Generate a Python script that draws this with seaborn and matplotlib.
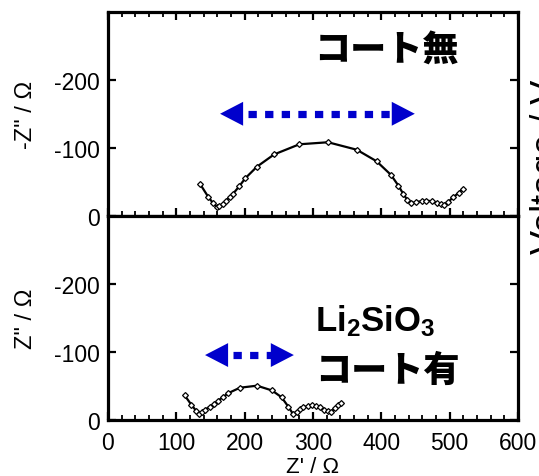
import matplotlib
matplotlib.use("Agg")
import matplotlib.pyplot as plt
import seaborn as sns
from matplotlib import font_manager
from matplotlib.ticker import MultipleLocator

# Nyquist data, uncoated sample (Z' / Ohm, Z'' / Ohm)
top_zre = [135, 147, 154, 159, 163, 168, 173, 178, 183, 192, 201, 218, 243, 280,
           322, 364, 393, 414, 425, 432, 438, 444, 451, 459, 466, 474, 481, 487,
           491, 498, 505, 513, 519]
top_zim = [-46, -27, -18, -13, -14, -17, -22, -27, -32, -43, -55, -72, -90, -105,
           -108, -97, -80, -60, -44, -32, -23, -18, -20, -21, -22, -21, -19, -17,
           -16, -20, -27, -33, -39]

# Li2SiO3 coated sample
bot_zre = [112, 122, 129, 133, 137, 142, 149, 155, 161, 168, 176, 193, 218, 240,
           254, 264, 271, 276, 281, 286, 292, 298, 304, 310, 316, 322, 327, 332,
           337, 341]
bot_zim = [-36, -22, -13, -9, -11, -15, -19, -23, -28, -33, -39, -47, -50, -43,
           -33, -19, -8, -12, -16, -18, -20, -21, -20, -18, -15, -13, -12, -17,
           -21, -25]

x_ticks = [0, 100, 200, 300, 400, 500, 600]
y_ticks = [0, -100, -200]

# blue double arrows: (left tip, right tip, height)
top_arrow = (164, 449, -150)
bot_arrow = (142, 272, -95)

BLUE = "#0000cc"

sns.set_theme(style="ticks")
plt.rcParams["font.family"] = ["Liberation Sans", "Noto Sans CJK JP"]
plt.rcParams["text.color"] = "black"
plt.rcParams["axes.labelcolor"] = "black"
plt.rcParams["axes.unicode_minus"] = False
plt.rcParams["mathtext.fontset"] = "custom"
plt.rcParams["mathtext.rm"] = "Liberation Sans"

# a narrow bold face looks closer to the formula label, if available
names = {f.name for f in font_manager.fontManager.ttflist}
formula_font = "Liberation Sans Narrow" if "Liberation Sans Narrow" in names else "Liberation Sans"
plt.rcParams["mathtext.bf"] = formula_font + ":bold"
formula_size = 29 if formula_font.endswith("Narrow") else 25

fig = plt.figure(figsize=(5.39, 4.77), dpi=100)
ax_top = fig.add_axes([108 / 539, 0.5461, 410 / 539, 0.4266])
ax_bot = fig.add_axes([108 / 539, 0.1180, 410 / 539, 0.4281])


def style_axis(ax, top_ticks):
    ax.set_xlim(0, 600)
    ax.set_ylim(0, -300)
    ax.set_xticks(x_ticks)
    ax.set_yticks(y_ticks)
    ax.xaxis.set_minor_locator(MultipleLocator(20))
    for s in ax.spines.values():
        s.set_linewidth(2.3)
        s.set_color("black")
    ax.tick_params(which="both", direction="in", top=top_ticks, right=True,
                   colors="black", labelsize=16.5)
    ax.tick_params(which="major", length=5.5, width=1.6)
    ax.tick_params(which="minor", length=3.5, width=1.3)
    ax.tick_params(axis="y", which="minor", left=False, right=False)
    ax.tick_params(axis="y", pad=6)
    ax.tick_params(axis="x", pad=8)


def draw_arrow(ax, span):
    x0, x1, y = span
    ax.annotate("", xy=(x0, y), xytext=(x1, y),
                arrowprops=dict(arrowstyle="<|-|>,head_length=1.66,head_width=0.86",
                                mutation_scale=10, lw=0, color=BLUE,
                                shrinkA=0, shrinkB=0))
    head = 33.0  # data units covered by one arrow head
    ax.plot([x0 + head + 8, x1 - head * 0.9], [y, y], color=BLUE, lw=5.2,
            linestyle=(0, (1.15, 1.15)), dash_capstyle="butt")


for ax, zre, zim in [(ax_top, top_zre, top_zim), (ax_bot, bot_zre, bot_zim)]:
    sns.lineplot(x=zre, y=zim, ax=ax, color="black", linewidth=1.6,
                 marker="D", markersize=3.0, markerfacecolor="white",
                 markeredgecolor="black", markeredgewidth=0.9,
                 sort=False, estimator=None)

style_axis(ax_top, True)
style_axis(ax_bot, False)
ax_top.tick_params(axis="x", labelbottom=False)

draw_arrow(ax_top, top_arrow)
draw_arrow(ax_bot, bot_arrow)

ax_top.set_ylabel("-Z\" / Ω", fontsize=17)
ax_bot.set_ylabel("Z\" / Ω", fontsize=17)
ax_top.yaxis.set_label_coords(-0.172, 0.5)
ax_bot.yaxis.set_label_coords(-0.172, 0.5)
ax_bot.set_xlabel("Z' / Ω", fontsize=16)
ax_bot.xaxis.set_label_coords(0.5, -0.18)

ax_top.text(0.68, 0.818, "コート無", transform=ax_top.transAxes,
            ha="center", va="center", fontsize=26, fontweight="heavy",
            family=["Noto Sans CJK JP"])
ax_bot.text(0.505, 0.49, r"$\mathbf{Li_2SiO_3}$", transform=ax_bot.transAxes,
            ha="left", va="center", fontsize=formula_size)
ax_bot.text(0.505, 0.244, "コート有", transform=ax_bot.transAxes,
            ha="left", va="center", fontsize=26, fontweight="heavy",
            family=["Noto Sans CJK JP"])

# cropped axis label of the neighbouring panel
fig.text(530 / 539, 0.65, "Voltage / V", rotation=90, ha="left", va="center",
         fontsize=26)

fig.savefig("out.png", dpi=100)
